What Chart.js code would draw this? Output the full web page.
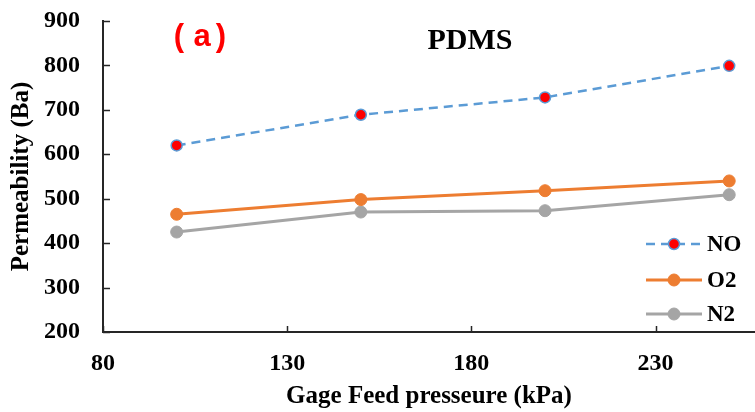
<!DOCTYPE html>
<html>
<head>
<meta charset="utf-8">
<script src="https://cdn.jsdelivr.net/npm/chart.js@4"></script>
<style>
  html, body { margin: 0; padding: 0; background: #fff; }
  #wrap { width: 755px; height: 412px; }
</style>
</head>
<body>
<div id="wrap"><canvas id="permChart"></canvas></div>
<script>
// pressure (kPa)
const pressures = [100, 150, 200, 250]
const noValues = [620, 689, 728, 799]
const o2Values = [465, 498, 518, 540]
const n2Values = [425, 470, 473, 509]

const xTicks = [80, 130, 180, 230]
const yTicks = [200, 300, 400, 500, 600, 700, 800, 900]

const serif = "'Liberation Serif', 'Times New Roman', serif"

function toPoints(vals){
    return pressures.map((p, i) => ({x: p, y: vals[i]}))
}

// small ticks pointing into the plot
const innerTicks = {
    id: 'innerTicks',
    afterDraw(chart){
        const ctx = chart.ctx
        const area = chart.chartArea
        const xs = chart.scales.x
        const ys = chart.scales.y
        ctx.save()
        ctx.strokeStyle = '#262626'
        ctx.lineWidth = 1.5
        ctx.beginPath()
        xTicks.forEach(v => {
            const px = Math.round(xs.getPixelForValue(v)) + 0.5
            ctx.moveTo(px, area.bottom)
            ctx.lineTo(px, area.bottom - 6)
        })
        yTicks.forEach(v => {
            const py = Math.round(ys.getPixelForValue(v)) + 0.5
            ctx.moveTo(area.left, py)
            ctx.lineTo(area.left + 7, py)
        })
        ctx.stroke()
        ctx.restore()
    }
}

// "(a)" label, PDMS title and the legend inside the plot
const annotations = {
    id: 'annotations',
    afterDraw(chart){
        const ctx = chart.ctx
        ctx.save()
        ctx.textBaseline = 'middle'
        ctx.textAlign = 'center'
        ctx.fillStyle = '#ff0000'
        ctx.font = "bold 31px 'Liberation Sans', Arial, sans-serif"
        ctx.fillText('(', 179, 37)
        ctx.fillText('a', 202, 37)
        ctx.fillText(')', 221, 37)
        ctx.fillStyle = '#000'
        ctx.font = 'bold 30px ' + serif
        ctx.fillText('PDMS', 470, 41)

        const rows = [244, 280, 314]
        ctx.textAlign = 'left'
        ctx.font = 'bold 23px ' + serif
        chart.data.datasets.forEach((ds, i) => {
            const y = rows[i]
            ctx.beginPath()
            ctx.strokeStyle = ds.borderColor
            ctx.lineWidth = ds.borderWidth
            ctx.setLineDash(ds.borderDash || [])
            ctx.moveTo(646, y)
            ctx.lineTo(702, y)
            ctx.stroke()
            ctx.setLineDash([])
            ctx.beginPath()
            ctx.arc(674, y, ds.pointRadius, 0, Math.PI * 2)
            ctx.fillStyle = ds.pointBackgroundColor
            ctx.fill()
            ctx.lineWidth = ds.pointBorderWidth
            ctx.strokeStyle = ds.pointBorderColor
            ctx.stroke()
            ctx.fillStyle = '#000'
            ctx.fillText(ds.label, 707, y + 1)
        })
        ctx.restore()
    }
}

const config = {
    type: 'line',
    data: {
        datasets: [
            {
                label: 'NO',
                data: toPoints(noValues),
                borderColor: '#5B9BD5',
                borderWidth: 2.5,
                borderDash: [9, 6],
                pointRadius: 5.5,
                pointBackgroundColor: '#ff0000',
                pointBorderColor: '#5B9BD5',
                pointBorderWidth: 1.5
            },
            {
                label: 'O2',
                data: toPoints(o2Values),
                borderColor: '#ED7D31',
                borderWidth: 3,
                pointRadius: 6,
                pointBackgroundColor: '#ED7D31',
                pointBorderColor: '#ED7D31',
                pointBorderWidth: 1
            },
            {
                label: 'N2',
                data: toPoints(n2Values),
                borderColor: '#A5A5A5',
                borderWidth: 3,
                pointRadius: 6,
                pointBackgroundColor: '#A5A5A5',
                pointBorderColor: '#A5A5A5',
                pointBorderWidth: 1
            }
        ]
    },
    options: {
        responsive: true,
        maintainAspectRatio: false,
        animation: false,
        layout: { autoPadding: false, padding: { top: 21, right: 0, bottom: 0, left: 0 } },
        plugins: {
            legend: { display: false },
            tooltip: { enabled: false }
        },
        scales: {
            x: {
                type: 'linear',
                min: 80,
                max: 257,
                afterBuildTicks: (scale) => { scale.ticks = xTicks.map(v => ({value: v})) },
                afterFit: (scale) => {
                    scale.height = 80
                    scale.paddingLeft = 0
                    scale.paddingRight = 0
                },
                grid: { display: false, drawTicks: false },
                border: { display: true, color: '#262626', width: 2 },
                ticks: {
                    color: '#000',
                    padding: 17,
                    maxRotation: 0,
                    font: { family: serif, size: 24, weight: 'bold' }
                },
                title: {
                    display: true,
                    text: 'Gage Feed presseure (kPa)',
                    color: '#000',
                    padding: { top: 0, bottom: 0 },
                    font: { family: serif, size: 25, weight: 'bold' }
                }
            },
            y: {
                min: 200,
                max: 900,
                afterBuildTicks: (scale) => { scale.ticks = yTicks.map(v => ({value: v})) },
                afterFit: (scale) => {
                    scale.width = 103
                    scale.paddingTop = 0
                    scale.paddingBottom = 0
                },
                grid: { display: false, drawTicks: false },
                border: { display: true, color: '#262626', width: 2 },
                ticks: {
                    color: '#000',
                    padding: 23,
                    font: { family: serif, size: 24, weight: 'bold' }
                },
                title: {
                    display: true,
                    text: 'Permeability (Ba)',
                    color: '#000',
                    padding: { top: 7, bottom: 0 },
                    font: { family: serif, size: 25, weight: 'bold' }
                }
            }
        }
    },
    plugins: [innerTicks, annotations]
}

const myChart = new Chart(document.getElementById('permChart'), config)
</script>
</body>
</html>
